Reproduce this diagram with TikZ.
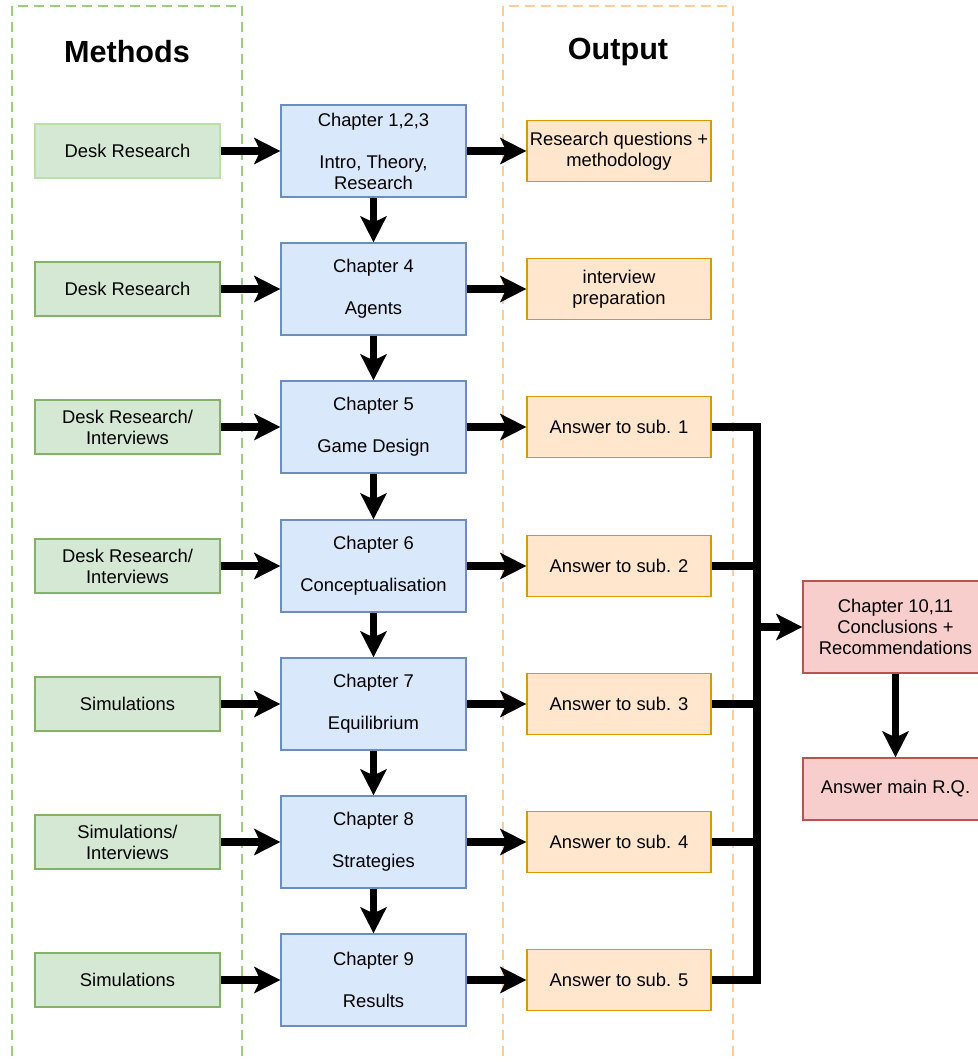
\documentclass[tikz,border=0pt]{standalone}
\usepackage{fontspec}
\setmainfont{Liberation Sans}
\usetikzlibrary{positioning, arrows.meta}

\definecolor{methodfill}{HTML}{D5E8D4}
\definecolor{methodline}{HTML}{82B366}
\definecolor{methodpaleline}{HTML}{B9E0A5}
\definecolor{chapterfill}{HTML}{DAE8FC}
\definecolor{chapterline}{HTML}{6C8EBF}
\definecolor{outputfill}{HTML}{FFE6CC}
\definecolor{outputline}{HTML}{D79B00}
\definecolor{finalfill}{HTML}{F8CECC}
\definecolor{finalline}{HTML}{B85450}
\definecolor{methodlane}{HTML}{97D077}
\definecolor{outputlane}{HTML}{FFCC99}

\begin{document}
\begin{tikzpicture}[x=0.5pt,y=-0.5pt]
	
	% 定义样式
	\tikzset{
		box/.style={
			line width=0.6pt, inner sep=0pt, align=center,
			font=\fontsize{9.2}{10.5}\selectfont
		},
		method/.style={box, draw=methodline, fill=methodfill,
			minimum width=92.5pt, minimum height=27pt},
		methodpale/.style={method, draw=methodpaleline},
		chapter/.style={box, draw=chapterline, fill=chapterfill,
			minimum width=92.5pt, minimum height=46pt},
		output/.style={box, draw=outputline, fill=outputfill,
			minimum width=92pt, minimum height=30.5pt},
		final/.style={box, draw=finalline, fill=finalfill,
			minimum width=92.5pt, minimum height=#1},
		final/.default=46pt,
		lane/.style={draw=#1, line width=1.4pt, dash pattern=on 5pt off 3pt},
		header/.style={font=\fontsize{15.3}{18}\selectfont\bfseries},
		flow/.style={line width=3.75pt,
			-{Stealth[length=13pt, width=13pt, inset=3pt]}},
		bus/.style={line width=3.75pt, line join=miter}
	}
	
	\useasboundingbox (0,0) rectangle (978,1062);
	
	% 参数设置
	\def \busx {757}
	
	% 两列虚线框
	\draw[lane=methodlane] (12,6) rectangle (242,1080);
	\draw[lane=outputlane] (503,6) rectangle (733,1080);
	\node[header] (methods) at (127,52) {Methods};
	\node[header] (outputs) at (618,52) {Output};
	
	% 每一行: 方法 -> 章节 -> 输出
	\foreach \i/\y/\st/\mtxt/\ctxt/\otxt in {
		1/151/methodpale/{Desk Research}/{Chapter 1,2,3\\[10.5pt]Intro, Theory,\\Research}/{Research questions +\\methodology},
		2/289/method/{Desk Research}/{Chapter 4\\[10.5pt]Agents}/{interview\\preparation},
		3/427/method/{Desk Research/\\Interviews}/{Chapter 5\\[10.5pt]Game Design}/{Answer to sub. 1},
		4/566/method/{Desk Research/\\Interviews}/{Chapter 6\\[10.5pt]Conceptualisation}/{Answer to sub. 2},
		5/704/method/{Simulations}/{Chapter 7\\[10.5pt]Equilibrium}/{Answer to sub. 3},
		6/842/method/{Simulations/\\Interviews}/{Chapter 8\\[10.5pt]Strategies}/{Answer to sub. 4},
		7/980/method/{Simulations}/{Chapter 9\\[10.5pt]Results}/{Answer to sub. 5}} {
		\node[\st] (m\i) at (127.5,\y) {\mtxt};
		\node[chapter] (ch\i) at (373.5,\y) {\ctxt};
		\node[output] (out\i) at (619,\y) {\otxt};
		\draw[flow] (m\i) -- (ch\i);
		\draw[flow] (ch\i) -- (out\i);
	}
	
	% 章节之间的箭头
	\foreach \i [count=\j from 2] in {1,...,6}
		\draw[flow] (ch\i) -- (ch\j);
	
	% 结论
	\node[final] (concl) at (895.5,627) {Chapter 10,11\\Conclusions +\\Recommendations};
	\node[final=31pt] (answer) at (895.5,789) {Answer main R.Q.};
	
	% 汇总线
	\coordinate (bustop) at (\busx,427);
	\coordinate (busbot) at (\busx,980);
	\draw[bus] (out3.east) -- (bustop) -- (busbot) -- (out7.east);
	\foreach \i in {4,5,6}
		\draw[bus] (out\i.east) -- (out\i.east -| bustop);
	\draw[flow] (bustop |- concl.west) -- (concl.west);
	\draw[flow] (concl) -- (answer);
	
\end{tikzpicture}
\end{document}
